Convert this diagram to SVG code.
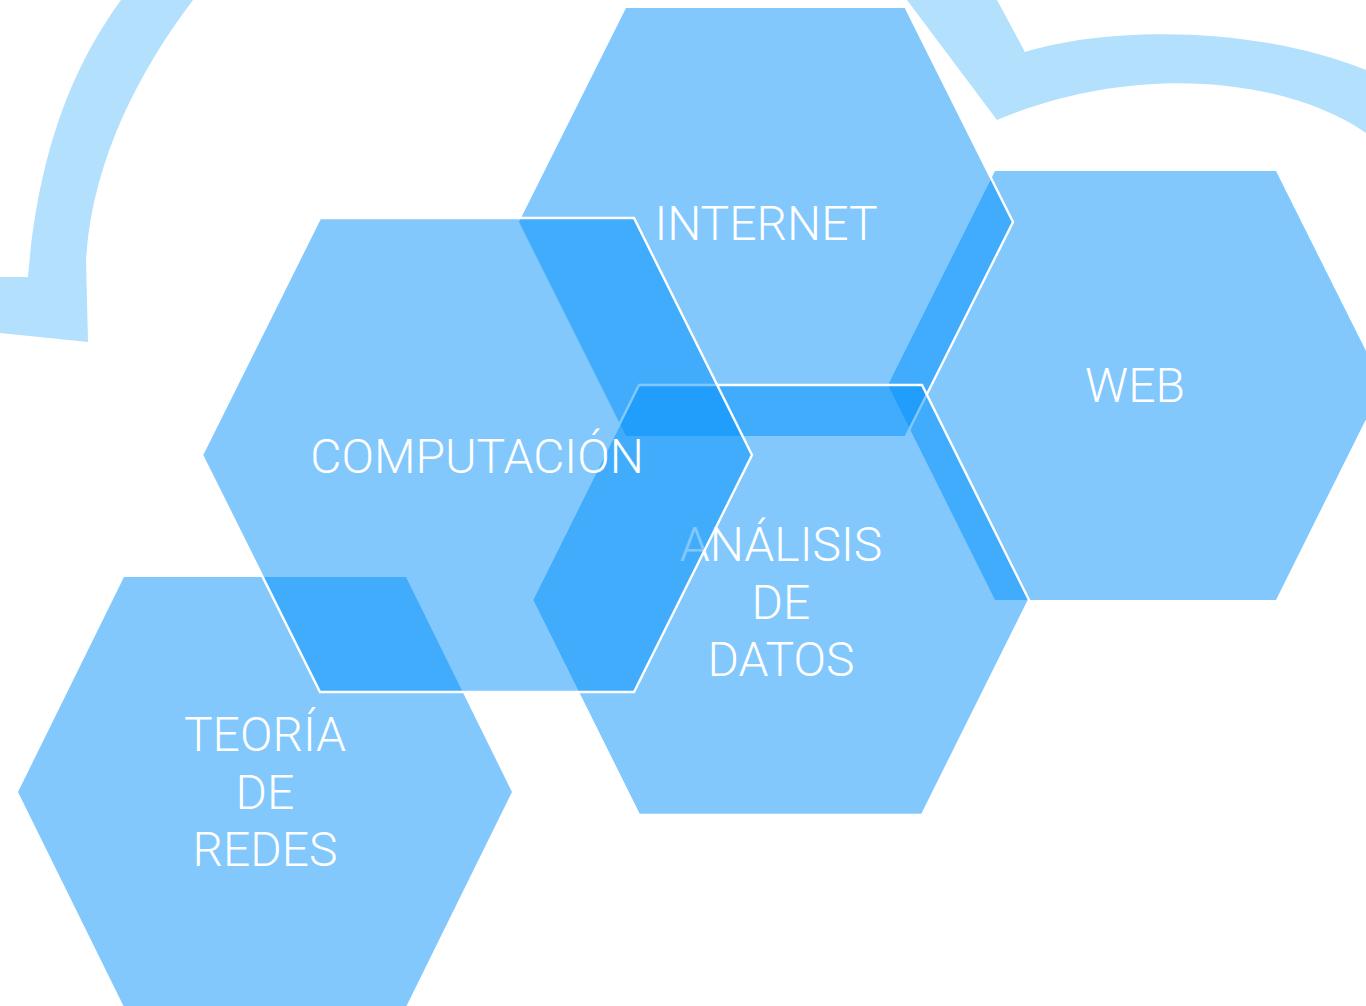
<svg xmlns="http://www.w3.org/2000/svg" width="1366" height="1006" viewBox="0 0 1366 1006">
<style>
.hex{fill:rgb(0,142,251);fill-opacity:0.49}
.edge{fill:none;stroke:#ffffff;stroke-width:2.4;stroke-linejoin:miter}
.lbl{font-family:Roboto,"Liberation Sans",sans-serif;font-weight:300;font-size:48px;fill:#ffffff;text-anchor:middle}
.arrow{fill:#B3E0FD}
</style>
<rect width="1366" height="1006" fill="#ffffff"/>
<g id="connectors">
<path class="arrow" d="M121,0 C85,50 40,130 28,277 L0,277 L0,333 L88,342 L86,260 C92,160 140,70 193,0 Z"/>
<path class="arrow" d="M907,0 L997,0 L1025,52 C1100,28 1250,23 1366,70 L1366,133 C1290,80 1140,60 997,120 Z"/>
</g>
<g id="node-web">
<polygon class="hex" points="995,171 1276,171 1383,385 1276,600 995,600 888,385"/>
<text class="lbl" x="1135" y="402">WEB</text>
</g>
<g id="node-internet">
<polygon class="hex" points="626,8 906,8 1013,222 906,436 626,436 519,222"/>
<polyline class="edge" points="906,8 1013,222 906,436"/>
<text class="lbl" x="766" y="240">INTERNET</text>
</g>
<g id="node-teoria">
<polygon class="hex" points="124,577 406,577 512,792 406,1007 124,1007 18,792"/>
<text class="lbl" x="265" y="751">TEORÍA</text>
<text class="lbl" x="265" y="809">DE</text>
<text class="lbl" x="265" y="866">REDES</text>
</g>
<g id="node-analisis">
<polygon class="hex" points="639,385 922,385 1029,600 922,815 639,815 532,600"/>
<polygon class="edge" points="639,385 922,385 1029,600 922,815 639,815 532,600"/>
<text class="lbl" x="781" y="561">ANÁLISIS</text>
<text class="lbl" x="781" y="619">DE</text>
<text class="lbl" x="781" y="676">DATOS</text>
</g>
<g id="node-computacion">
<polygon class="hex" points="320,218 634,218 752,455 634,692 320,692 202,455"/>
<polygon class="edge" points="320,218 634,218 752,455 634,692 320,692 202,455"/>
<text class="lbl" x="477" y="473">COMPUTACIÓN</text>
</g>
</svg>
